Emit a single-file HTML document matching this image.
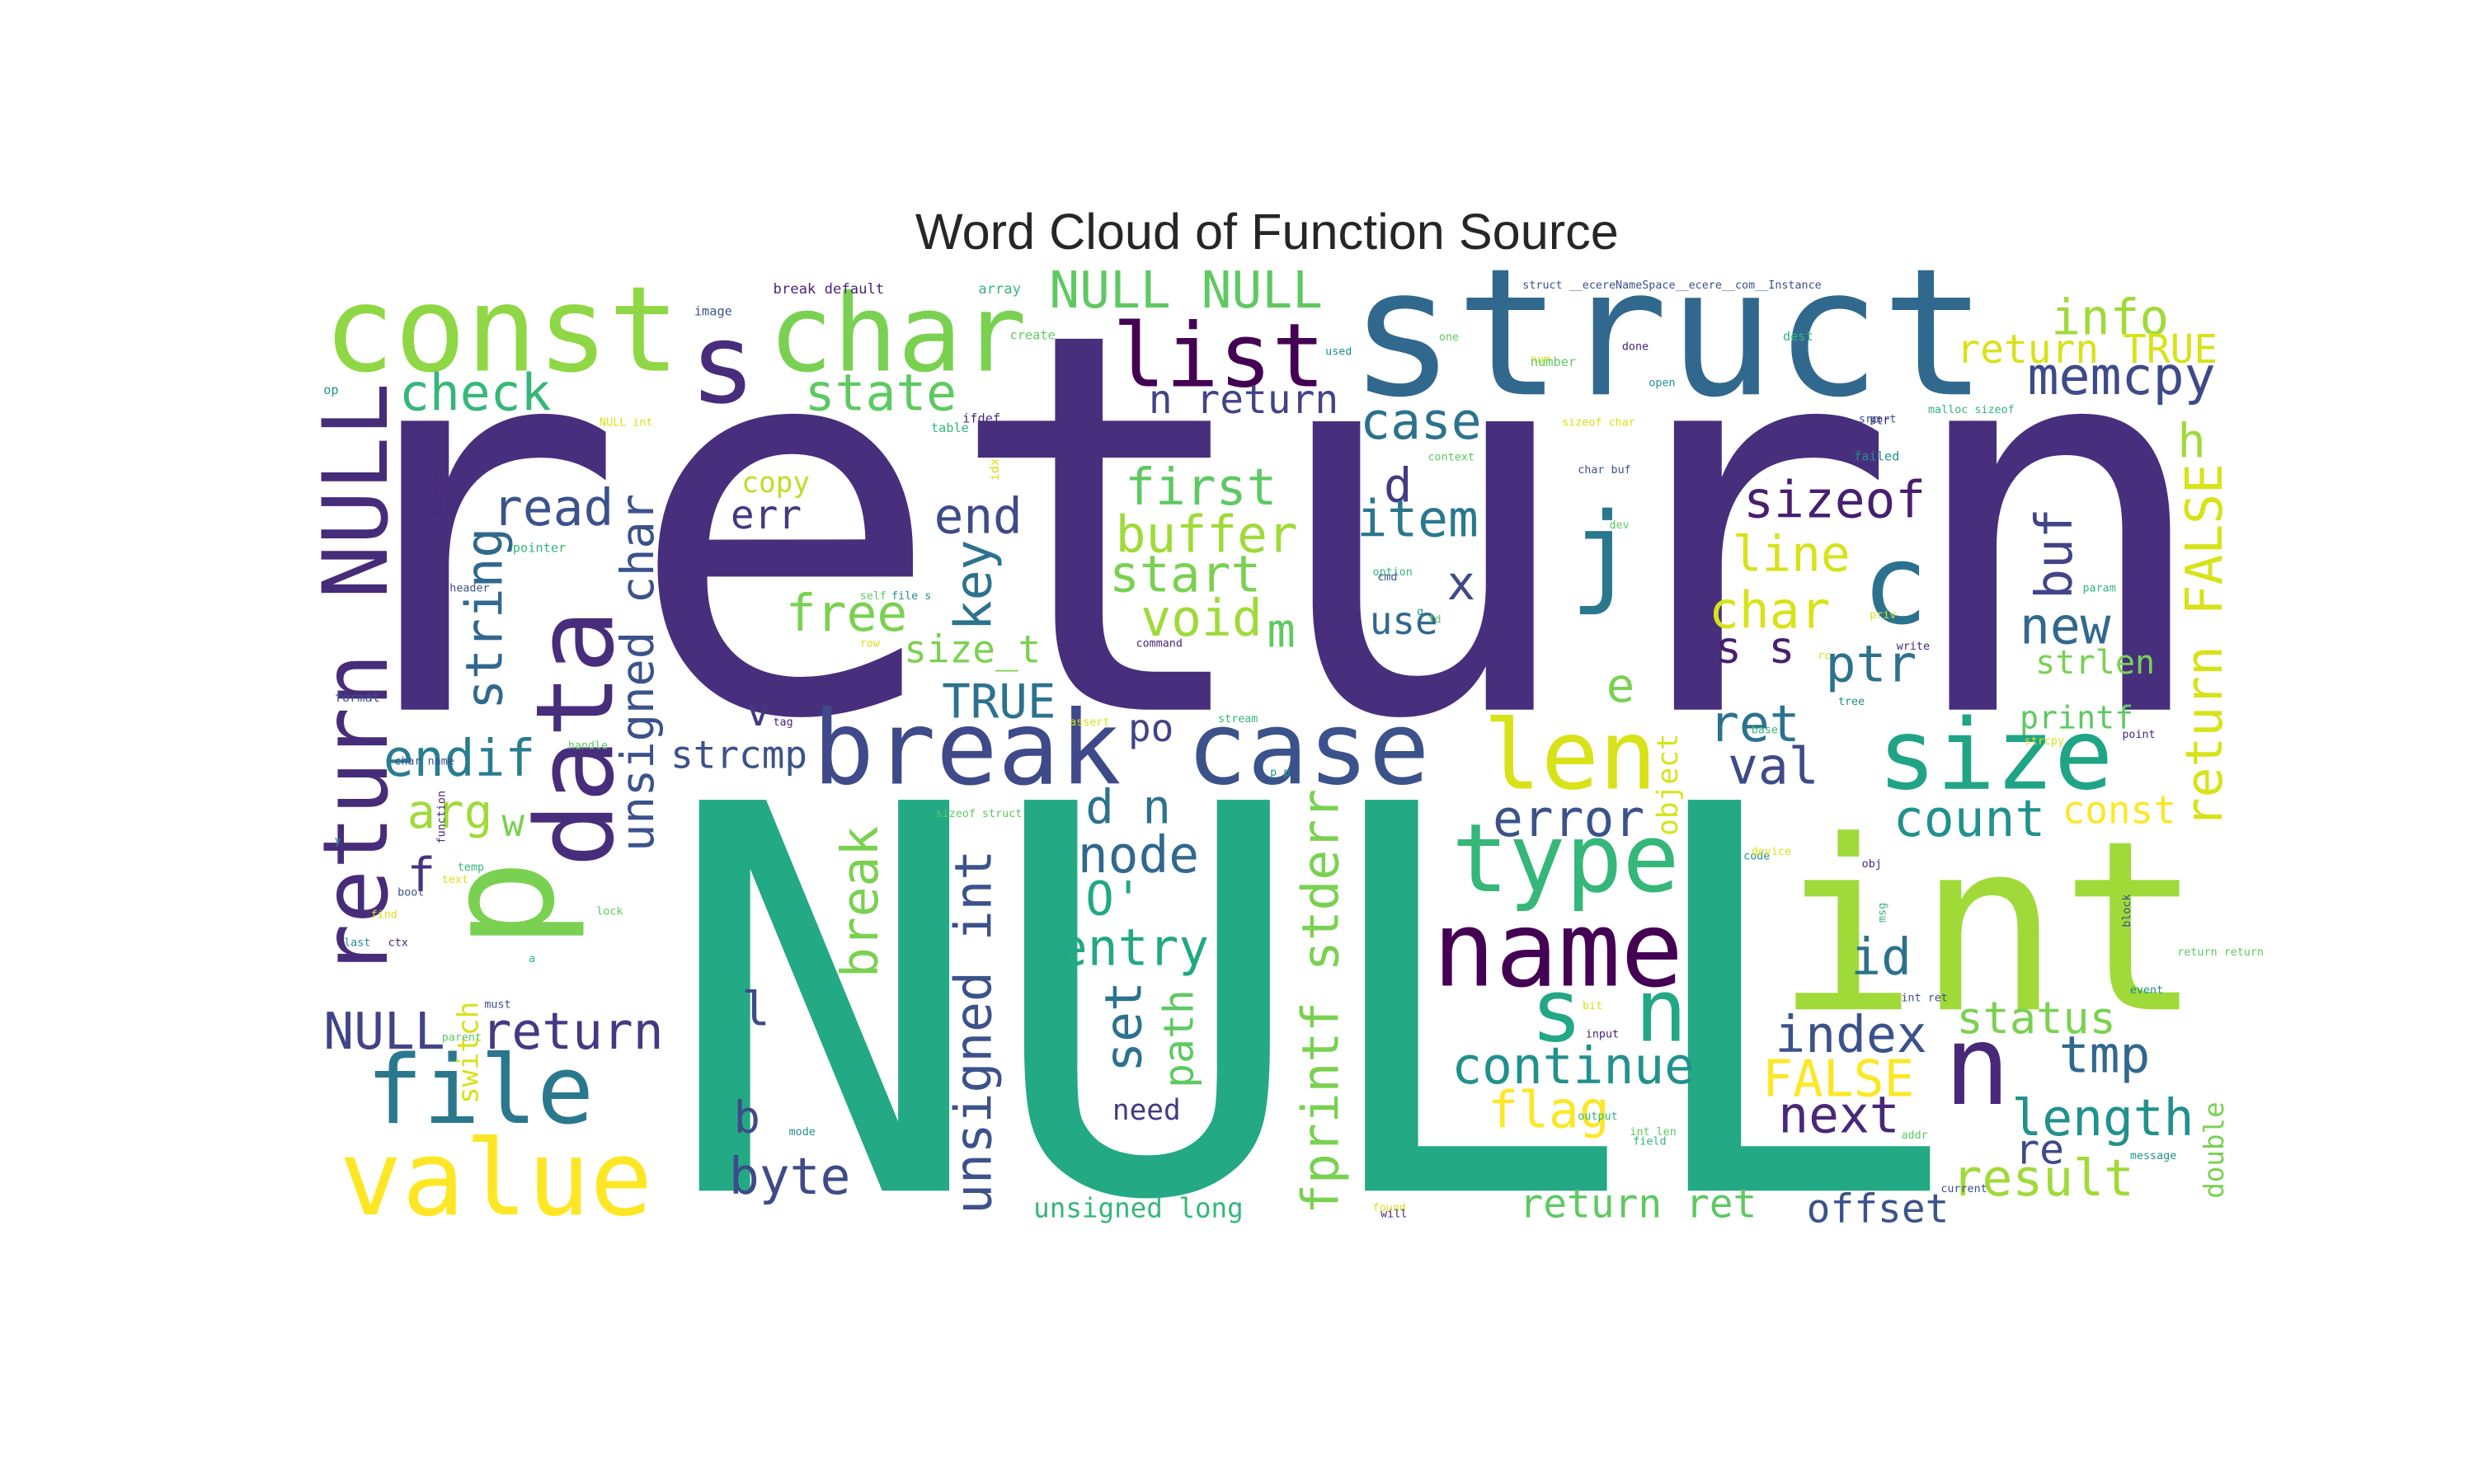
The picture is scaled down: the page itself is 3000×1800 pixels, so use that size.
<!DOCTYPE html>
<html><head><meta charset="utf-8">
<style>
html,body{margin:0;padding:0;background:#fff;}
svg{display:block;}
text.w{font-family:"DejaVu Sans Mono","Liberation Mono",monospace;}
</style></head>
<body>
<svg id="chart" width="3000" height="1800" viewBox="0 0 1568 941" preserveAspectRatio="none" xmlns="http://www.w3.org/2000/svg">
<rect width="1568" height="941" fill="#fff"/>
<text x="803" y="158" text-anchor="middle" font-family="Liberation Sans, Arial, sans-serif" font-size="32" fill="#262626">Word Cloud of Function Source</text>
<g id="cloud"></g>
</svg>
<script>
const words = ["return","NULL","int","struct","const","char","s","list","NULL NULL","data","p","return NULL","break","case","len","size","j","c","type","name","s n","n","file","value","info","return TRUE","memcpy","check","state","n return","case","h","copy","d","first","read","err","end","item","sizeof","buffer","line","buf","unsigned char","string","key","start","x","char","free","void","m","use","new","size_t","s s","ptr","strlen","return FALSE","e","TRUE","v","strcmp","endif","ret","val","printf","po","arg","w","error","count","const","d n","node","f","break","unsigned int","O'","entry","fprintf stderr","object","id","set","path","l","NULL","return","switch","status","index","continue","tmp","FALSE","re","length","flag","next","b","need","byte","result","double","unsigned long","return ret","offset",
"break default","array","image","create","op","NULL int","ifdef","table","struct __ecereNameSpace__ecere__com__Instance","one","used","num","done","dest","port","number","open","sizeof char","str","malloc sizeof","src","context","failed","idx","target","pointer","header","self","file s","row","command","option","cmd","fd","q","priv","write","param","char buf","dev","tree","strcpy","point","base","format","handle","y","text","function","temp","bool","lock","last","find","ctx","a","must","parent","mode","found","will","output","current","addr","message","bit","input","field","int ret","int len","code","device","obj","msg","block","return return","event","assert","tag","stream","char name","sizeof struct","p p","rc"];
const sizes = [335,340,150,112,75,68,70,56,32,68,95,57,65,64,61,62,70,70,60,66,55,70,60,66,31,25,33,32,32,25,32,30,18,30,32,32,25,31,32,32,32,31,32,29,32,32,32,30,32,32,32,30,24,32,24,28,32,21,32,30,30,25,24,32,32,32,20,24,30,24,32,32,24,30,32,30,32,32,30,32,32,18,32,32,26,30,32,32,18,28,32,32,32,32,26,32,32,32,28,18,32,32,17,17,25,25,
9,9,8,8,8,7,8,8,7,7,7,7,7,8,7,8,7,7,7,7,7,7,8,8,8,8,7,7,7,7,7,7,7,7,7,7,7,7,7,7,7,7,7,7,8,7,7,7,7,7,7,7,7,7,7,7,7,7,7,7,7,7,7,7,7,7,7,7,7,7,7,7,7,7,7,7,7,7,7];
const colors = ["#472f7d","#23a983","#a0da39","#31688e","#8fd744","#7ad151","#472d7b","#440154","#5ec962","#472d7b","#7ad151","#472c7a","#3e4a89","#3b528b","#d8e219","#20a486","#2a788e","#2c728e","#35b779","#440154","#22a884","#482878","#2a788e","#fde725","#a0da39","#d8e219","#3e4a89","#35b779","#5ec962","#414487","#2c728e","#a0da39","#bddf26","#443983","#5ec962","#3b528b","#443983","#3e4a89","#2a788e","#481f70","#a0da39","#d8e219","#414487","#3b528b","#31688e","#2c728e","#7ad151","#3e4a89","#d8e219","#7ad151","#a0da39","#5ec962","#31688e","#31688e","#7ad151","#481f70","#2c728e","#7ad151","#d8e219","#7ad151","#2c728e","#443983","#3b528b","#287d8e","#2c728e","#3e4a89","#5ec962","#414487","#a0da39","#7ad151","#3b528b","#21918c","#fde725","#2c728e","#31688e","#46337e","#7ad151","#3b528b","#22a884","#22a884","#7ad151","#d8e219","#2c728e","#2c728e","#5ec962","#3e4a89","#414487","#443983","#d8e219","#7ad151","#3b528b","#21918c","#31688e","#fde725","#3e4a89","#21918c","#fde725","#482878","#3e4a89","#443983","#3e4a89","#a0da39","#7ad151","#35b779","#5ec962","#3b528b"];
const xs = [195,420,1125,855,205,487,437,705,665,388,350,245,515,752,940,1190,995,1180,920,908,970,1232,232,215,1300,1240,1285,253,510,728,862,1380,470,877,713,312,463,592,860,1105,707,1098,1313,414,318,628,703,917,1083,498,723,803,868,1280,573,1087,1157,1290,1408,1018,597,473,425,243,1083,1095,1280,715,258,318,946,1200,1307,688,683,258,556,628,688,670,848,1063,1173,723,756,470,205,305,303,1240,1125,920,1305,1117,1277,1275,943,1127,465,705,462,1237,1409,655,963,1145,
490,620,440,640,205,380,610,590,965,912,840,970,1028,1130,1185,970,1045,990,1185,1222,1178,905,1175,633,280,325,285,545,565,545,720,870,873,905,898,1185,1202,1320,1000,1020,1165,1283,1345,1110,212,360,212,280,282,290,252,378,218,235,246,335,307,280,500,870,875,1000,1230,1205,1350,1003,1005,1035,1205,1033,1105,1110,1180,1195,1350,1380,1350,678,490,772,250,593,805,1152];
const ys = [450,755,640,250,235,235,255,245,195,550,602,620,497,497,500,500,375,395,565,625,660,700,712,770,212,230,250,260,260,262,278,290,312,318,320,333,335,338,340,328,350,362,380,540,450,400,375,380,398,400,403,410,402,408,420,420,432,427,525,445,455,460,487,492,470,497,462,470,525,530,530,530,522,522,553,565,620,770,580,612,770,530,618,680,690,650,665,665,700,655,667,687,680,695,738,720,715,718,718,710,757,758,760,772,772,775,
186,186,200,215,250,270,268,274,183,216,225,230,222,216,268,232,245,270,269,262,268,292,292,305,327,350,375,380,380,410,410,365,368,395,390,392,412,375,300,335,447,472,468,465,445,475,535,560,535,552,568,580,600,582,600,610,639,660,720,768,772,710,756,722,735,640,658,726,635,720,545,542,550,585,588,606,630,460,460,458,485,518,492,418];
const rots = {9:1,10:1,11:1,42:1,43:1,44:1,45:1,58:1,76:1,77:1,80:1,81:1,83:1,84:1,88:1,102:1,129:1,130:1,154:1,179:1,180:1};
const g = document.getElementById('cloud');
const NS = "http://www.w3.org/2000/svg";
for (let i = 0; i < words.length && i < xs.length; i++) {
  const t = document.createElementNS(NS, 'text');
  t.setAttribute('class', 'w');
  const fs = sizes[i] || 7;
  t.setAttribute('font-size', fs);
  t.setAttribute('fill', colors[i] || ['#3b528b','#5ec962','#21918c','#d8e219','#482878','#35b779'][i % 6]);
  if (rots[i]) {
    t.setAttribute('transform', 'translate(' + xs[i] + ',' + ys[i] + ') rotate(-90)');
  } else {
    t.setAttribute('x', xs[i]);
    t.setAttribute('y', ys[i]);
  }
  t.textContent = words[i];
  
  
  g.appendChild(t);
}
</script>
</body></html>
